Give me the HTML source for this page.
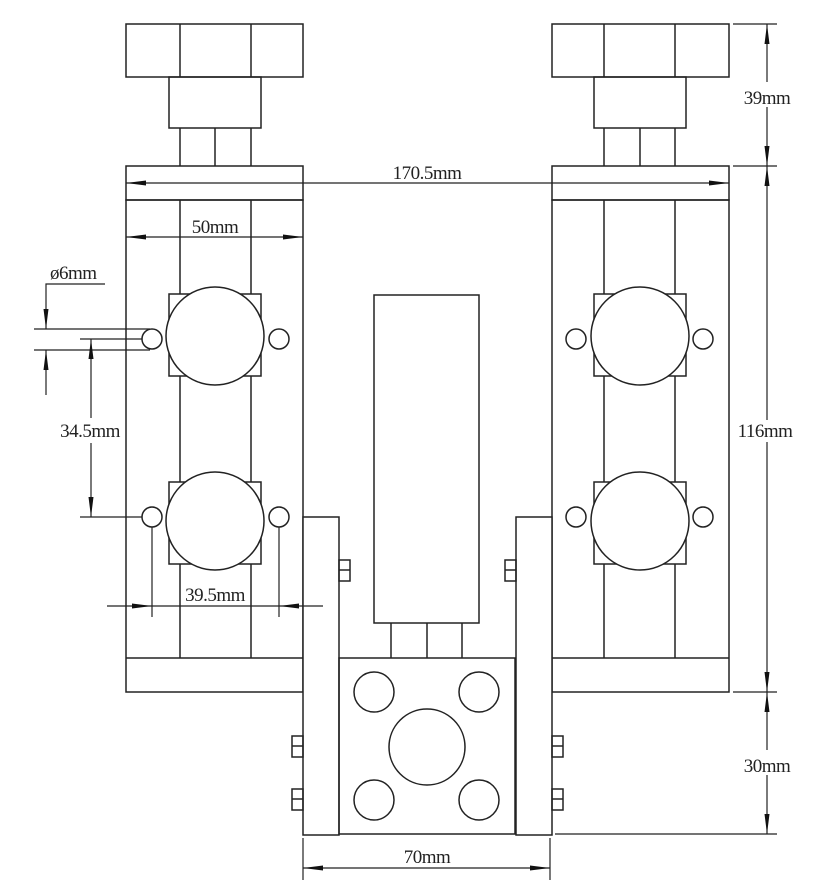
<!DOCTYPE html>
<html><head><meta charset="utf-8"><style>
html,body{margin:0;padding:0;background:#fff;}
svg{display:block;}
text{font-family:"Liberation Serif",serif;font-size:19px;fill:#222;letter-spacing:-0.5px;}
</style></head><body>
<svg width="835" height="888" viewBox="0 0 835 888" xmlns="http://www.w3.org/2000/svg">
<defs>
<g id="rail" fill="none" stroke="#222" stroke-width="1.5">
  <rect x="126" y="24" width="177" height="53"/>
  <line x1="180" y1="24" x2="180" y2="77"/><line x1="251" y1="24" x2="251" y2="77"/>
  <rect x="169" y="77" width="92" height="51"/>
  <line x1="180" y1="128" x2="180" y2="166"/><line x1="215" y1="128" x2="215" y2="166"/><line x1="251" y1="128" x2="251" y2="166"/>
  <rect x="126" y="166" width="177" height="34"/>
  <rect x="126" y="200" width="177" height="492"/>
  <line x1="126" y1="658" x2="303" y2="658"/>
  <line x1="180" y1="200" x2="180" y2="658"/><line x1="251" y1="200" x2="251" y2="658"/>
  <rect x="169" y="294" width="92" height="82" fill="#fff"/>
  <circle cx="215" cy="336" r="49" fill="#fff"/>
  <rect x="169" y="482" width="92" height="82" fill="#fff"/>
  <circle cx="215" cy="521" r="49" fill="#fff"/>
  <circle cx="152" cy="339" r="10"/><circle cx="279" cy="339" r="10"/>
  <circle cx="152" cy="517" r="10"/><circle cx="279" cy="517" r="10"/>
  <rect x="303" y="517" width="36" height="318" fill="#fff"/>
  <rect x="339" y="560" width="11" height="21"/><line x1="339" y1="570" x2="350" y2="570"/>
  <rect x="292" y="736" width="11" height="21"/><line x1="292" y1="746" x2="303" y2="746"/>
  <rect x="292" y="789" width="11" height="21"/><line x1="292" y1="799" x2="303" y2="799"/>
</g>
</defs>
<use href="#rail"/>
<use href="#rail" transform="translate(855,0) scale(-1,1)"/>
<g fill="none" stroke="#222" stroke-width="1.5">
  <rect x="374" y="295" width="105" height="328"/>
  <line x1="391" y1="623" x2="391" y2="658"/><line x1="427" y1="623" x2="427" y2="658"/><line x1="462" y1="623" x2="462" y2="658"/>
  <rect x="339" y="658" width="176" height="176"/>
  <circle cx="374" cy="692" r="20"/><circle cx="479" cy="692" r="20"/>
  <circle cx="427" cy="747" r="38"/>
  <circle cx="374" cy="800" r="20"/><circle cx="479" cy="800" r="20"/>
</g>
<g stroke="#222" stroke-width="1.2" fill="none">
  <line x1="126" y1="183" x2="729" y2="183"/>
  <line x1="126" y1="237" x2="303" y2="237"/>
  <line x1="733" y1="24" x2="777" y2="24"/><line x1="733" y1="166" x2="777" y2="166"/>
  <line x1="733" y1="692" x2="777" y2="692"/><line x1="555" y1="834" x2="777" y2="834"/>
  <line x1="767" y1="24" x2="767" y2="82"/><line x1="767" y1="107" x2="767" y2="166"/>
  <line x1="767" y1="166" x2="767" y2="420"/><line x1="767" y1="442" x2="767" y2="692"/>
  <line x1="767" y1="692" x2="767" y2="750"/><line x1="767" y1="775" x2="767" y2="834"/>
  <line x1="303" y1="838" x2="303" y2="880"/><line x1="550" y1="838" x2="550" y2="880"/>
  <line x1="303" y1="868" x2="550" y2="868"/>
  <polyline points="105,284 46,284 46,329"/>
  <line x1="46" y1="350" x2="46" y2="395"/>
  <line x1="34" y1="329" x2="150" y2="329"/><line x1="34" y1="350" x2="150" y2="350"/>
  <line x1="80" y1="339" x2="142" y2="339"/>
  <line x1="91" y1="339" x2="91" y2="418"/><line x1="91" y1="443" x2="91" y2="517"/>
  <line x1="80" y1="517" x2="142" y2="517"/>
  <line x1="152" y1="527" x2="152" y2="617"/><line x1="279" y1="527" x2="279" y2="617"/>
  <line x1="107" y1="606" x2="323" y2="606"/>
</g>
<g fill="#111">
  <polygon points="126,183 146,180.5 146,185.5"/><polygon points="729,183 709,180.5 709,185.5"/>
  <polygon points="126,237 146,234.5 146,239.5"/><polygon points="303,237 283,234.5 283,239.5"/>
  <polygon points="767,24 764.5,44 769.5,44"/><polygon points="767,166 764.5,146 769.5,146"/>
  <polygon points="767,166 764.5,186 769.5,186"/><polygon points="767,692 764.5,672 769.5,672"/>
  <polygon points="767,692 764.5,712 769.5,712"/><polygon points="767,834 764.5,814 769.5,814"/>
  <polygon points="303,868 323,865.5 323,870.5"/><polygon points="550,868 530,865.5 530,870.5"/>
  <polygon points="46,329 43.5,309 48.5,309"/><polygon points="46,350 43.5,370 48.5,370"/>
  <polygon points="91,339 88.5,359 93.5,359"/><polygon points="91,517 88.5,497 93.5,497"/>
  <polygon points="152,606 132,603.5 132,608.5"/><polygon points="279,606 299,603.5 299,608.5"/>
</g>
<text x="427" y="179" text-anchor="middle">170.5mm</text>
<text x="215" y="233" text-anchor="middle">50mm</text>
<text x="50" y="279">ø6mm</text>
<text x="90" y="437" text-anchor="middle">34.5mm</text>
<text x="215" y="601" text-anchor="middle">39.5mm</text>
<text x="767" y="104" text-anchor="middle">39mm</text>
<text x="765" y="437" text-anchor="middle">116mm</text>
<text x="767" y="772" text-anchor="middle">30mm</text>
<text x="427" y="863" text-anchor="middle">70mm</text>
</svg>
</body></html>
